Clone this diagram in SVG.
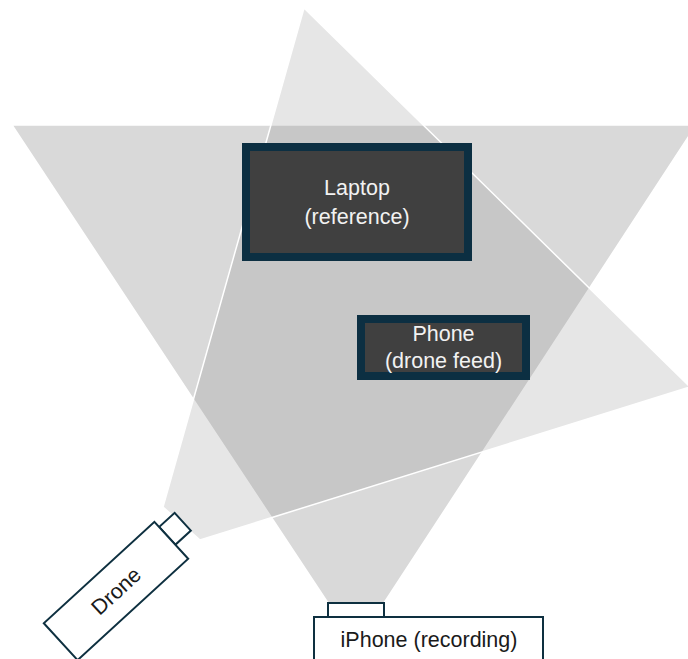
<svg xmlns="http://www.w3.org/2000/svg" width="688" height="659" viewBox="0 0 688 659">
  <style>
    .cone { fill: #808080; stroke: #ffffff; stroke-width: 1.5; stroke-linejoin: round; }
    .device { fill: #ffffff; stroke: #0e3040; stroke-width: 2; }
    .screen { fill: #404040; stroke: #0c2f42; stroke-width: 8; }
    .light { font-family: "Liberation Sans", Arial, sans-serif; font-size: 21.5px; fill: #f2f2f2; text-anchor: middle; }
    .dark { font-family: "Liberation Sans", Arial, sans-serif; font-size: 21.5px; fill: #1a1a1a; text-anchor: middle; }
  </style>
  <rect width="688" height="659" fill="#ffffff"/>
  <g id="fields-of-view">
    <polygon id="iphone-cone" class="cone" fill-opacity="0.3" points="12,125 696,125 384,603 328,603"/>
    <polygon id="drone-cone" class="cone" fill-opacity="0.197" points="304,8 690,387 200,540 163,507"/>
  </g>
  <g id="laptop">
    <rect class="screen" x="246" y="147" width="222" height="110"/>
    <text class="light" x="357" y="195">Laptop</text>
    <text class="light" x="357" y="224">(reference)</text>
  </g>
  <g id="phone">
    <rect class="screen" x="361" y="319" width="165" height="57"/>
    <text class="light" x="443.5" y="341">Phone</text>
    <text class="light" x="443.5" y="368">(drone feed)</text>
  </g>
  <g id="iphone">
    <rect class="device" x="328" y="603" width="56" height="14"/>
    <rect class="device" x="314" y="617" width="229" height="50"/>
    <text class="dark" x="429" y="647">iPhone (recording)</text>
  </g>
  <g id="drone" transform="translate(116,591) rotate(-42.5)">
    <rect class="device" x="75" y="-18" width="21" height="24"/>
    <rect class="device" x="-75" y="-25" width="150" height="50"/>
    <text class="dark" x="0" y="7.5">Drone</text>
  </g>
  <g id="connectors"/>
</svg>
